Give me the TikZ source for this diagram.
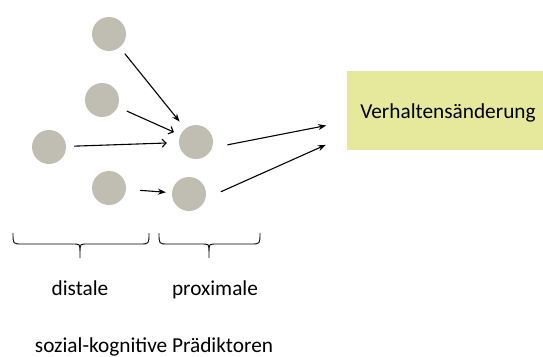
\documentclass[tikz,border=0pt]{standalone}
\usepackage{fontspec}
\setmainfont{Carlito}
\usetikzlibrary{arrows.meta,calc}
\definecolor{dotgray}{RGB}{192,190,178}
\definecolor{boxyellow}{RGB}{230,233,155}
\tikzset{
  dot/.style={circle,fill=dotgray,draw=none,minimum size=34pt,inner sep=0pt},
  arr/.style={line width=1.1pt,-{Stealth[length=8pt,width=6pt]}},
  barb/.style={line width=1.1pt,-{Straight Barb[length=4pt,width=8pt]}},
  lbl/.style={font=\fontsize{21.3}{25}\selectfont,anchor=base,inner sep=0pt},
  brace/.style={line width=0.9pt}
}
\begin{document}
\begin{tikzpicture}[x=1pt,y=-1pt]
\useasboundingbox (0,0) rectangle (543,356);
% predictor dots
\node[dot] (c1) at (109,34) {};
\node[dot] (c2) at (102,100) {};
\node[dot] (c3) at (49,147) {};
\node[dot] (c4) at (109,188) {};
\node[dot] (p1) at (196,142) {};
\node[dot] (p2) at (189,194) {};
% outcome box
\node[fill=boxyellow,minimum width=196pt,minimum height=79pt,inner sep=0pt] (box) at (445,110.5) {};
\node[lbl] (beh) at (448,118) {Verhaltensänderung};
% influences
\draw[arr,shorten <=8pt,shorten >=9pt] (c1) -- (p1);
\draw[barb,shorten <=10pt,shorten >=7pt] (c2) -- (p1);
\draw[barb,shorten <=8pt,shorten >=12pt] (c3) -- (p1);
\draw[arr,shorten <=14pt,shorten >=6pt] (c4) -- (p2);
\draw[arr,shorten <=32pt,shorten >=21pt] ([yshift=-9pt]p1.center) -- ([yshift=-11pt]box.west);
\draw[arr,shorten <=35pt,shorten >=23pt] ([yshift=-12pt]p2.center) -- ([yshift=-25pt]box.west);
% braces
\draw[brace] (13,233) .. controls (13,244) .. (22,244) -- (72,244)
  .. controls (80,244) .. (80,251) -- (80,258);
\draw[brace] (80,251) .. controls (80,244) .. (88,244) -- (140,244)
  .. controls (149,244) .. (149,233);
\draw[brace] (159,233) .. controls (159,244) .. (168,244) -- (201,244)
  .. controls (209,244) .. (209,251) -- (209,258);
\draw[brace] (209,251) .. controls (209,244) .. (217,244) -- (251,244)
  .. controls (260,244) .. (260,233);
% labels
\node[lbl] (dist) at (80,295) {distale};
\node[lbl] (prox) at (215,295) {proximale};
\node[lbl] (soz) at (154,352) {sozial-kognitive Prädiktoren};
\end{tikzpicture}
\end{document}
